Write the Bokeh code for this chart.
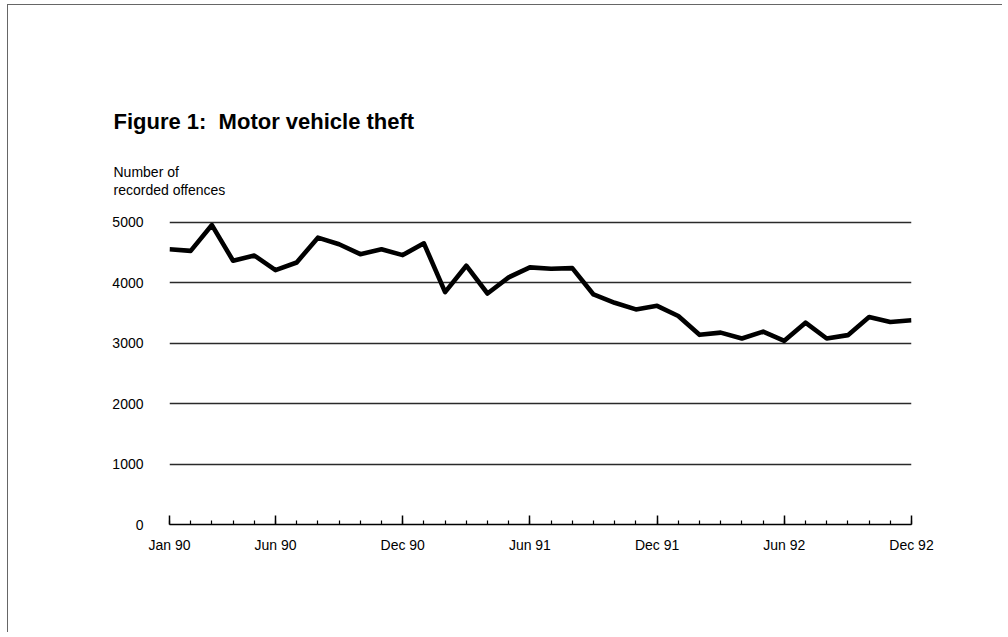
from bokeh.plotting import figure
from bokeh.models import FixedTicker, Title, ColumnDataSource
from bokeh.embed import file_html
from bokeh.resources import INLINE

# ---- data ----
months = [f"{m} {y}" for y in ("90", "91", "92")
          for m in ("Jan", "Feb", "Mar", "Apr", "May", "Jun",
                    "Jul", "Aug", "Sep", "Oct", "Nov", "Dec")]
offences = [4557, 4530, 4957, 4366, 4453, 4212, 4338, 4749, 4639, 4475, 4557, 4460,
            4655, 3846, 4284, 3824, 4092, 4256, 4235, 4245, 3808, 3670, 3561, 3620,
            3452, 3140, 3177, 3079, 3194, 3041, 3342, 3079, 3135, 3435, 3353, 3381]
x_tick_labels = ["Jan 90", "Jun 90", "Dec 90", "Jun 91", "Dec 91", "Jun 92", "Dec 92"]
y_ticks = [0, 1000, 2000, 3000, 4000, 5000]

title_text = "Figure 1:\u00a0 Motor vehicle theft"
ylabel_lines = ["Number of", "recorded offences"]

idx = list(range(len(months)))
x_tick_pos = [months.index(lbl) for lbl in x_tick_labels]

FONT = "Liberation Sans"

src = ColumnDataSource(dict(x=idx, y=offences, month=months))

p = figure(width=995, height=628, output_backend="svg", toolbar_location=None,
           x_range=(0, len(months) - 1), y_range=(0, 5397),
           min_border_left=161, min_border_right=92,
           min_border_top=193, min_border_bottom=109)
p.styles = {"margin-top": "4px", "margin-left": "7px",
            "border-top": "1px solid #666", "border-left": "1px solid #666"}
p.outline_line_color = None
p.background_fill_color = "white"
p.border_fill_color = "white"

p.line("x", "y", source=src, line_color="black", line_width=4.6, line_join="round")

# x axis
xa = p.xaxis[0]
xa.ticker = FixedTicker(ticks=x_tick_pos, minor_ticks=idx)
xa.major_label_overrides = {pos: lbl for pos, lbl in zip(x_tick_pos, x_tick_labels)}
xa.axis_line_color = "black"
xa.axis_line_width = 1.5
xa.major_tick_in = 9
xa.major_tick_out = 0
xa.minor_tick_in = 4
xa.minor_tick_out = 0
xa.major_tick_line_color = "black"
xa.major_tick_line_width = 1.5
xa.minor_tick_line_color = "black"
xa.minor_tick_line_width = 1.2
xa.major_label_standoff = 12
xa.major_label_text_font = FONT
xa.major_label_text_font_size = "14px"
xa.major_label_text_color = "black"

# y axis
ya = p.yaxis[0]
ya.ticker = FixedTicker(ticks=y_ticks)
ya.axis_line_color = None
ya.major_tick_line_color = None
ya.minor_tick_line_color = None
ya.major_label_standoff = 20
ya.major_label_text_font = FONT
ya.major_label_text_font_size = "14px"
ya.major_label_text_color = "black"

# grid
p.xgrid.grid_line_color = None
p.ygrid.ticker = FixedTicker(ticks=[t for t in y_ticks if t > 0])
p.ygrid.grid_line_color = "#2a2a2a"
p.ygrid.grid_line_width = 1.3

# texts (stacked above the frame, first added is closest to the frame)
p.add_layout(Title(text=ylabel_lines[1], align="left", offset=-56, standoff=2,
                   text_font=FONT, text_font_size="14px", text_font_style="normal",
                   text_color="black"), "above")
p.add_layout(Title(text=ylabel_lines[0], align="left", offset=-56, standoff=-2,
                   text_font=FONT, text_font_size="14px", text_font_style="normal",
                   text_color="black"), "above")
p.add_layout(Title(text=title_text, align="left", offset=-56, standoff=58,
                   text_font=FONT, text_font_size="22px", text_font_style="bold",
                   text_color="black"), "above")

open("out.html", "w").write(file_html(p, INLINE))
